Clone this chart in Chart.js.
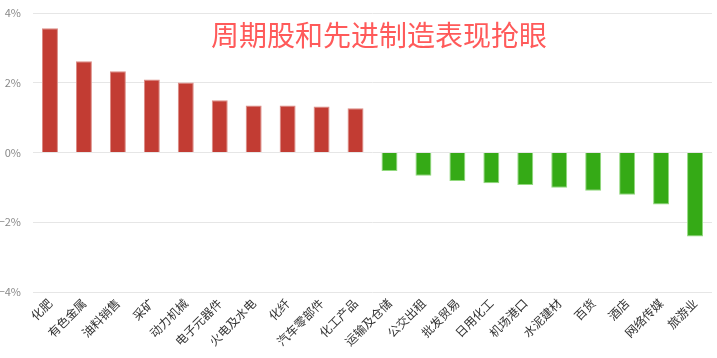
<!DOCTYPE html>
<html>
<head>
<meta charset="utf-8">
<script src="https://cdn.jsdelivr.net/npm/chart.js@4/dist/chart.umd.min.js"></script>
<style>
html,body{margin:0;padding:0;background:#fff;}
#wrap{position:relative;width:717px;height:358px;}
</style>
</head>
<body>
<div id="wrap"><canvas id="c" width="717" height="358"></canvas></div>
<script>
const categories = ["化肥","有色金属","油料销售","采矿","动力机械","电子元器件","火电及水电","化纤","汽车零部件","化工产品","运输及仓储","公交出租","批发贸易","日用化工","机场港口","水泥建材","百货","酒店","网络传媒","旅游业"];
const changePct = [3.56,2.62,2.33,2.09,2.01,1.50,1.35,1.35,1.32,1.27,-0.53,-0.67,-0.82,-0.88,-0.93,-1.01,-1.10,-1.21,-1.49,-2.41];
const yTicks = [-4,-2,0,2,4];
const titleText = "周期股和先进制造表现抢眼";

const fillColors = changePct.map(v => v >= 0 ? "#c23c33" : "#35aa16");
const borderColors = changePct.map(v => v >= 0 ? "#dc8a84" : "#92d97e");

const titlePlugin = {
  id: "overlayTitle",
  afterDraw(chart) {
    const ctx = chart.ctx;
    ctx.save();
    ctx.font = '28px "Noto Sans CJK SC"';
    ctx.fillStyle = "#ff5a5a";
    ctx.textAlign = "center";
    ctx.textBaseline = "middle";
    ctx.fillText(titleText, 379, 35);
    ctx.restore();
  }
};

new Chart(document.getElementById("c"), {
  type: "bar",
  data: {
    labels: categories,
    datasets: [{
      data: changePct,
      backgroundColor: fillColors,
      borderColor: borderColors,
      borderWidth: 1,
      categoryPercentage: 1,
      barPercentage: 0.47
    }]
  },
  options: {
    responsive: false,
    animation: false,
    layout: { padding: { top: 13, right: 5, left: 0, bottom: 0 } },
    plugins: { legend: { display: false }, tooltip: { enabled: false } },
    scales: {
      x: {
        grid: { display: false, drawTicks: false },
        border: { display: false },
        ticks: {
          minRotation: 45, maxRotation: 45, autoSkip: false,
          color: "#333", font: { family: '"Noto Sans CJK SC"', size: 12 }, padding: 4
        },
        afterFit(scale) { scale.height = 66; }
      },
      y: {
        min: -4, max: 4,
        afterBuildTicks(scale) { scale.ticks = yTicks.map(v => ({ value: v })); },
        grid: { color: "#e6e6e6", lineWidth: 1, drawTicks: false },
        border: { display: false },
        ticks: {
          color: "#888", font: { family: '"Noto Sans CJK SC"', size: 11 }, padding: 12,
          callback: v => (v < 0 ? "−" + Math.abs(v) : v) + "%"
        },
        afterFit(scale) { scale.width = 33; scale.paddingTop = 0; scale.paddingBottom = 0; }
      }
    }
  },
  plugins: [titlePlugin]
});
</script>
</body>
</html>
